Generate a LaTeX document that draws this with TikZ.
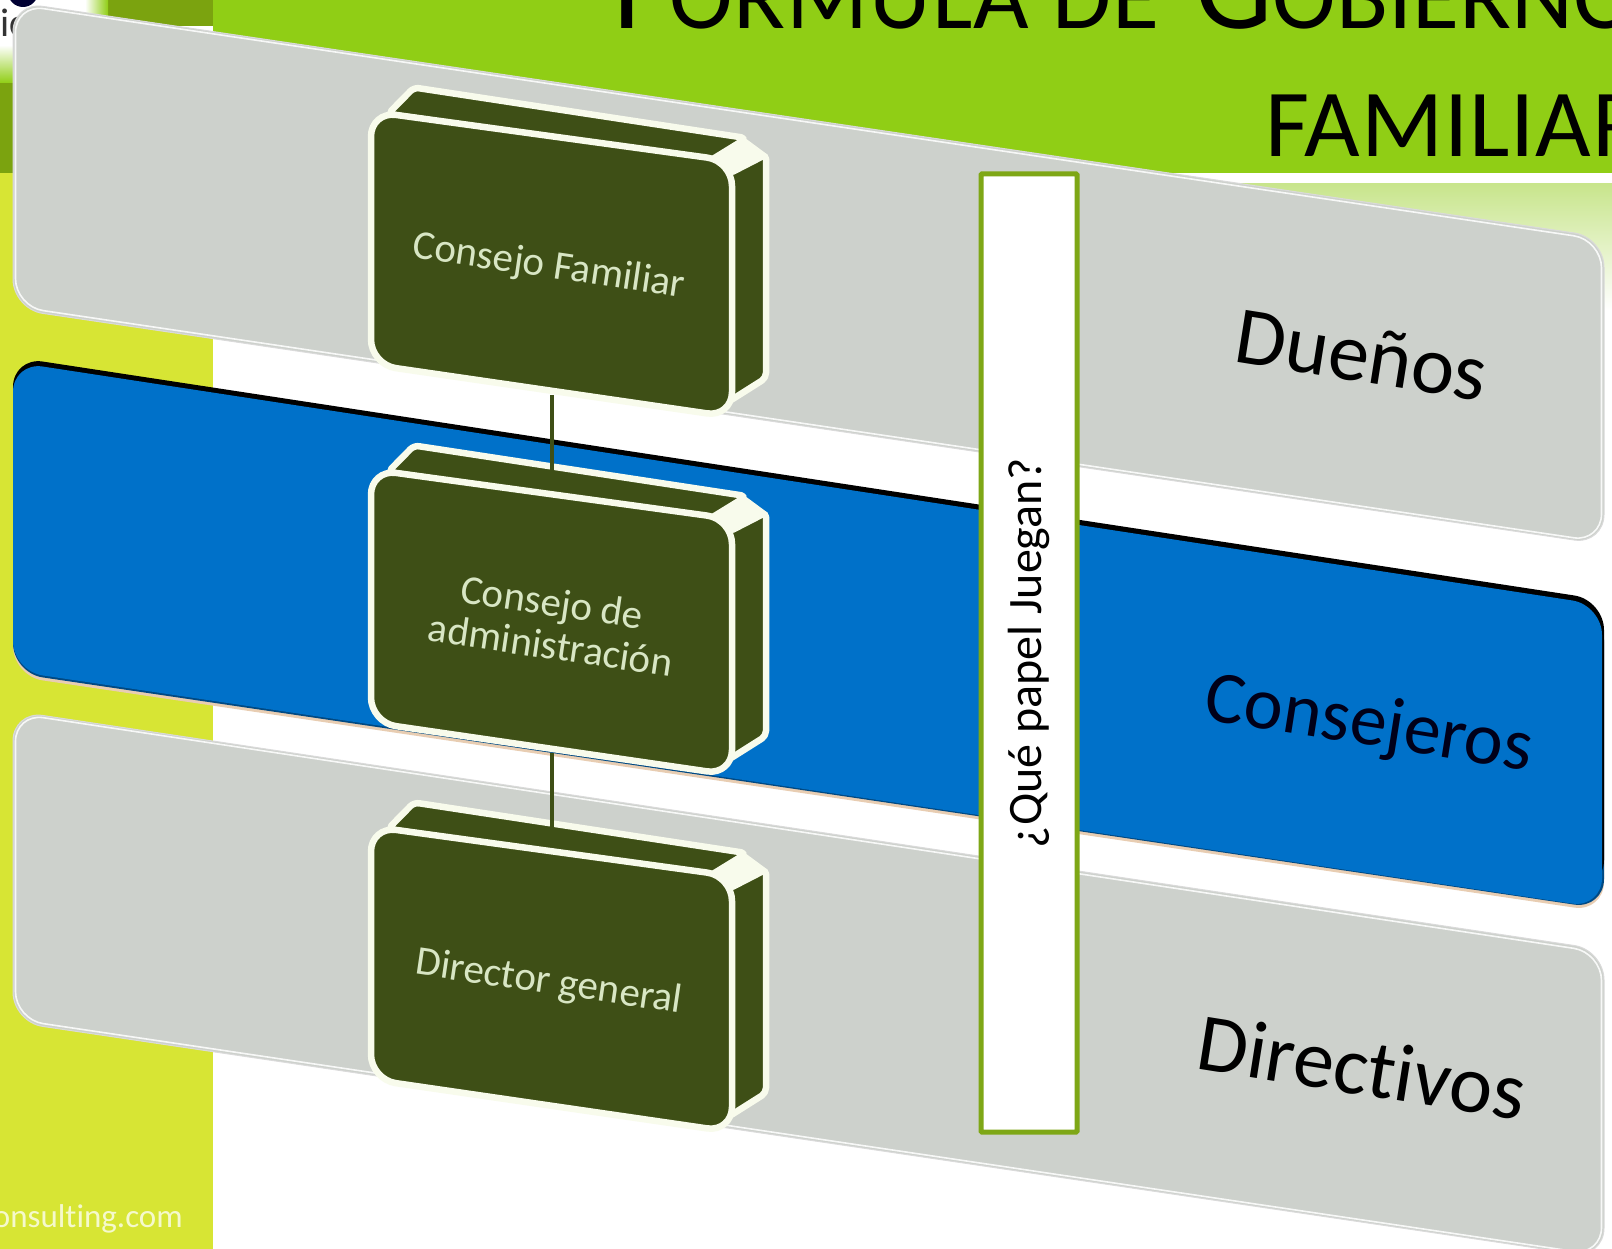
\documentclass[tikz,border=0pt]{standalone}
\usepackage{fontspec}
\setmainfont[Ligatures=NoCommon]{Carlito}
\newfontfamily\titlefont[LetterSpace=1]{Carlito}
\newfontfamily\titletight{Carlito}
\definecolor{lime}{HTML}{D7E534}
\definecolor{hdr}{HTML}{90CE15}
\definecolor{hdrdark}{HTML}{7BA30F}
\definecolor{slabgray}{HTML}{CDD1CC}
\definecolor{slabedge}{HTML}{DADADA}
\definecolor{slabblue}{HTML}{0071C9}
\definecolor{boxdark}{HTML}{3E4F16}
\definecolor{boxline}{HTML}{F8FBEC}
\definecolor{boxtext}{HTML}{D8E6C4}
\definecolor{frameg}{HTML}{7EA716}
\definecolor{fadeg}{HTML}{C8E58C}
\tikzset{
  slabgrayst/.style={fill=slabgray,draw=slabedge,line width=1pt,rounded corners=30pt},
  slabline/.style={draw=white,line width=1.6pt,rounded corners=28pt,opacity=.85},
  slabbluest/.style={fill=slabblue,rounded corners=30pt},
  face/.style={fill=boxdark,draw=boxline,line width=6.5pt,line join=round,rounded corners=5pt},
  front/.style={fill=boxdark,draw=boxline,line width=6.5pt,rounded corners=25pt},
  boxlabel/.style={text=boxtext,rotate=-8.4,font=\fontsize{41}{43}\selectfont,align=center,inner sep=0pt},
  slablabel/.style={rotate=-9,inner sep=0pt},
  conn/.style={draw=boxdark,line width=4pt},
  question/.style={draw=frameg,fill=white,line width=5pt,rounded corners=1pt,rotate=90,minimum width=958pt,minimum height=96pt,inner sep=0pt,font=\fontsize{48}{54}\selectfont}
}
% slab: y at left edge and at right edge, for top and bottom sides
\newcommand\slabpath[4]{(13,#1) -- (1604,#2) -- (1604,#4) -- (13,#3) -- cycle}
\newcommand\slabinset[4]{(15.5,{#1+2.5}) -- (1601.5,{#2+2.5}) -- (1601.5,{#4-2.5}) -- (15.5,{#3-2.5}) -- cycle}
% raised box: name, vertical offset from the middle box
\newcommand\raisedbox[2]{%
  \begin{scope}[shift={(0,#2)}]
    \path[face] (388,472) -- (414,445.5) -- (746,496) -- (713,520) -- cycle;
    \path[face] (728,529) -- (766,512) -- (766,736) -- (728,760) -- cycle;
    \path[fill=boxline,draw=boxline,line width=4pt,line join=round] (712,516) -- (743,497) -- (766,514) -- (733,531) -- cycle;
    \coordinate (#1bot) at (552,753);
    \coordinate (#1top) at (552,490);
  \end{scope}}
\newcommand\raisedfront[2]{%
  \begin{scope}[shift={(0,#2)}]
    \path[front] (371,469.5) -- (732,519) -- (732,775) -- (371,722.5) -- cycle;
  \end{scope}}
\begin{document}
\begin{tikzpicture}[x=1pt,y=-1pt]
\useasboundingbox (0,0) rectangle (1612,1249);
\clip (0,0) rectangle (1612,1249);
\fill[white] (0,0) rectangle (1612,1249);
% slide background
\fill[lime] (0,173) rectangle (213,1249);
\fill[hdr] (213,0) rectangle (1612,173);
\fill[hdrdark] (108,0) rectangle (213,26);
\fill[hdrdark] (0,83) rectangle (14,173);
\shade[left color=white,right color=hdr] (85,0) rectangle (108,26);
\shade[top color=white,bottom color=hdr] (0,45) rectangle (14,83);
\shade[top color=fadeg,bottom color=white] (1150,184) rectangle (1612,310);
% logo fragments and footer text
\fill[black!80!blue] (23,-8) circle (15);
\node[anchor=base west,inner sep=0pt,text=black!80,font=\fontsize{40}{44}\selectfont] (logo) at (0,37) {ic};
\node[anchor=base east,inner sep=0pt,text=lime!25!white,font=\fontsize{33}{36}\selectfont] (web) at (183,1227) {onsulting.com};
% title
\node[anchor=base west,inner sep=0pt] (title1) at (613,29) {\titlefont\fontsize{122}{130}\selectfont F\fontsize{96}{130}\selectfont ÓRMULA DE \kern14pt\fontsize{122}{130}\selectfont G\titletight\fontsize{96}{130}\selectfont OBIERNO};
\node[anchor=base west,inner sep=0pt] (title2) at (1265,157) {\titlefont\fontsize{96}{130}\selectfont FAMILIAR};
% slabs
\path[slabgrayst] \slabpath{2}{237.4}{309}{544.4};
\path[slabline] \slabinset{2}{237.4}{309}{544.4};
\fill[black!30!orange!30!white,rounded corners=30pt] \slabpath{370}{612}{676}{912};
\fill[slabblue!65!black,rounded corners=30pt] \slabpath{366}{610}{673}{909};
\fill[black,rounded corners=30pt] \slabpath{357}{600}{660}{890};
\path[slabbluest] (13,362) -- (1602,605) -- (1602,908) -- (13,671) -- cycle;
\path[slabgrayst] \slabpath{711}{950}{1022}{1258};
\path[slabline] \slabinset{711}{950}{1022}{1258};
% boxes
\raisedbox{a}{-358}
\raisedbox{b}{0}
\raisedbox{c}{357}
% connectors
\draw[conn] (abot) -- (btop);
\draw[conn] (bbot) -- (ctop);
\raisedfront{a}{-358}
\raisedfront{b}{0}
\raisedfront{c}{357}
% labels
\node[boxlabel] (afam) at (549,267) {Consejo Familiar};
\node[boxlabel] (bcons) at (549,623) {Consejo de\\\hspace*{10pt}administración};
\node[boxlabel] (cdir) at (549,983) {Director general};
\node[slablabel,font=\fontsize{82}{90}\selectfont] (duen) at (1362,355) {Dueños};
\node[slablabel,text=black!90!blue,font=\fontsize{74}{80}\selectfont] (cons) at (1369,726) {Consejeros};
\node[slablabel,font=\fontsize{82}{90}\selectfont] (dir) at (1362,1067) {Directivos};
\node[question] (q) at (1029,653) {\raisebox{-5pt}{¿Qué papel Juegan?}};
\end{tikzpicture}
\end{document}
